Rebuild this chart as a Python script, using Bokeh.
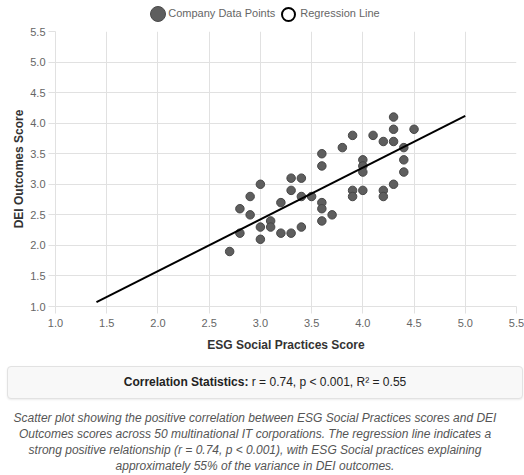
from bokeh.plotting import figure
from bokeh.models import Range1d, FixedTicker, PrintfTickFormatter, Div, ColumnDataSource
from bokeh.layouts import column
from bokeh.embed import file_html
from bokeh.resources import INLINE

# ---- data ----
esg_scores = [2.7, 2.8, 2.8, 2.9, 2.9, 3.0, 3.0, 3.0, 3.1, 3.1,
              3.2, 3.2, 3.3, 3.3, 3.3, 3.4, 3.4, 3.4, 3.5, 3.6,
              3.6, 3.6, 3.6, 3.6, 3.7, 3.8, 3.9, 3.9, 3.9, 4.0,
              4.0, 4.0, 4.0, 4.1, 4.2, 4.2, 4.2, 4.3, 4.3, 4.3,
              4.3, 4.4, 4.4, 4.4, 4.5]
dei_scores = [1.9, 2.2, 2.6, 2.8, 2.5, 3.0, 2.3, 2.1, 2.4, 2.3,
              2.7, 2.2, 3.1, 2.9, 2.2, 3.1, 2.8, 2.3, 2.8, 3.5,
              3.3, 2.7, 2.6, 2.4, 2.5, 3.6, 3.8, 2.9, 2.8, 3.4,
              3.3, 3.2, 2.9, 3.8, 3.7, 2.9, 2.8, 4.1, 3.9, 3.7,
              3.0, 3.6, 3.4, 3.2, 3.9]
reg_x = [1.4, 5.0]
reg_y = [1.07, 4.12]
x_ticks = [1.0, 1.5, 2.0, 2.5, 3.0, 3.5, 4.0, 4.5, 5.0, 5.5]
y_ticks = [1.0, 1.5, 2.0, 2.5, 3.0, 3.5, 4.0, 4.5, 5.0, 5.5]

x_label = "ESG Social Practices Score"
y_label = "DEI Outcomes Score"
legend_labels = ["Company Data Points", "Regression Line"]
stats_text = "r = 0.74, p &lt; 0.001, R² = 0.55"
caption_lines = [
    "Scatter plot showing the positive correlation between ESG Social Practices scores and DEI",
    "Outcomes scores across 50 multinational IT corporations. The regression line indicates a",
    "strong positive relationship (r = 0.74, p &lt; 0.001), with ESG Social practices explaining",
    "approximately 55% of the variance in DEI outcomes.",
]

FONT = "Liberation Sans"
GRID = "#e1e1e1"

p = figure(width=524, height=332, output_backend="svg", toolbar_location=None,
           x_range=Range1d(1.0, 5.5), y_range=Range1d(1.0, 5.5),
           min_border_left=55, min_border_right=8, min_border_top=9, min_border_bottom=48)
p.outline_line_color = None
p.background_fill_color = "white"
p.border_fill_color = "white"

for ax, ticks in ((p.xaxis, x_ticks), (p.yaxis, y_ticks)):
    ax.ticker = FixedTicker(ticks=ticks)
    ax.formatter = PrintfTickFormatter(format="%.1f")
    ax.major_label_text_font = FONT
    ax.major_label_text_font_size = "11px"
    ax.major_label_text_color = "#666666"
    ax.major_tick_out = 7
    ax.major_tick_in = 0
    ax.minor_tick_out = 0
    ax.minor_tick_in = 0
    ax.major_tick_line_color = GRID
    ax.axis_line_color = GRID
    ax.axis_label_text_font = FONT
    ax.axis_label_text_font_size = "12px"
    ax.axis_label_text_font_style = "bold"
    ax.axis_label_text_color = "#333333"

p.xaxis.axis_label = x_label
p.yaxis.axis_label = y_label
p.xaxis.major_label_standoff = 5
p.xaxis.axis_label_standoff = 8
p.yaxis.major_label_standoff = 3
p.yaxis.axis_label_standoff = 1

p.xgrid.ticker = FixedTicker(ticks=x_ticks)
p.ygrid.ticker = FixedTicker(ticks=y_ticks)
p.xgrid.grid_line_color = GRID
p.ygrid.grid_line_color = GRID

pts = ColumnDataSource(dict(x=esg_scores, y=dei_scores))
p.scatter("x", "y", source=pts, size=8.5, fill_color="#5e5e5e", line_color="#474747", line_width=1)
p.line(reg_x, reg_y, line_color="black", line_width=2)

legend_html = (
    f"<div style=\"display:flex;justify-content:center;align-items:center;height:16px;width:524px;"
    f"padding-left:6px;box-sizing:border-box;font-family:'{FONT}';font-size:11px;color:#666;white-space:nowrap\">"
    f"<span style=\"display:inline-block;width:16px;height:16px;border-radius:50%;background:#5e5e5e;"
    f"box-sizing:border-box;border:1px solid #4a4a4a\"></span>"
    f"<span style=\"margin-left:2px\">{legend_labels[0]}</span>"
    f"<span style=\"display:inline-block;width:15px;height:15px;border-radius:50%;background:#fff;"
    f"box-sizing:border-box;border:2px solid #000;margin-left:6px\"></span>"
    f"<span style=\"margin-left:4px\">{legend_labels[1]}</span></div>"
)
legend_div = Div(text=legend_html, width=524, height=16, margin=(6, 0, 0, 0))

stats_html = (
    f"<div style=\"box-sizing:border-box;width:516px;height:33px;line-height:31px;background:#f8f8f8;"
    f"border:1px solid #e2e2e2;border-radius:4px;box-shadow:0 1px 2px rgba(0,0,0,0.08);text-align:center;"
    f"font-family:'{FONT}';font-size:12px;color:#222\"><b>Correlation Statistics:</b> {stats_text}</div>"
)
stats_div = Div(text=stats_html, width=516, height=33, margin=(12, 0, 0, 7))

caption_html = (
    f"<div style=\"width:494px;text-align:center;font-family:'{FONT}';font-size:12px;font-style:italic;"
    f"color:#555;line-height:16px;white-space:nowrap\">" + "<br>".join(caption_lines) + "</div>"
)
caption_div = Div(text=caption_html, width=494, height=64, margin=(11, 0, 0, 8))

layout = column(legend_div, p, stats_div, caption_div, spacing=0, margin=(0, 0, 0, 0))

open("out.html", "w").write(file_html(layout, INLINE))
